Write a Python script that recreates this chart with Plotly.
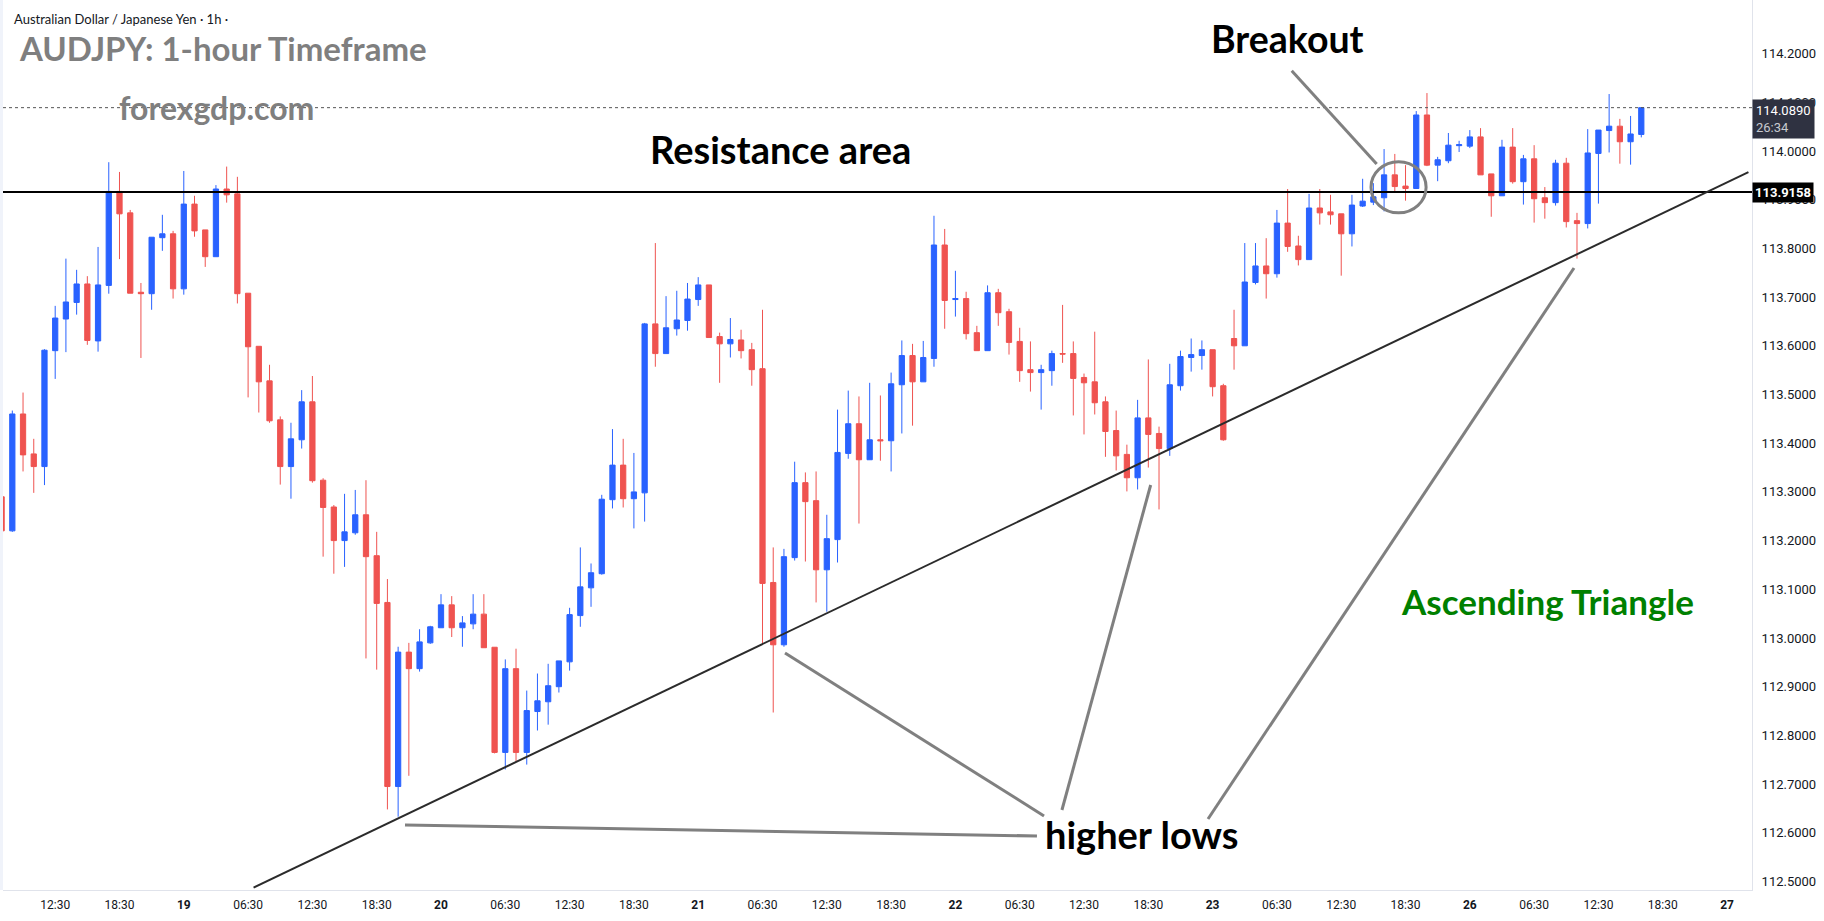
import plotly.graph_objects as go

# ---------------- data (hourly bars, index 0 = 19th 00:30) ----------------
bar_index = list(range(-17, 137))

opens = [113.29, 113.22, 113.460, 113.378, 113.352, 113.590, 113.655, 113.689, 113.727, 113.610,
         113.724, 113.917, 113.873, 113.710, 113.707, 113.822, 113.830, 113.717, 113.891, 113.838,
         113.783, 113.922, 113.912, 113.708, 113.599, 113.528, 113.448, 113.352, 113.407, 113.485,
         113.324, 113.269, 113.200, 113.216, 113.253, 113.169, 113.073, 112.695, 112.971, 112.937,
         112.990, 113.021, 113.068, 113.021, 113.029, 113.049, 112.981, 112.765, 112.937, 112.765,
         112.849, 112.869, 112.900, 112.951, 113.046, 113.103, 113.132, 113.284, 113.355, 113.286,
         113.298, 113.645, 113.584, 113.635, 113.652, 113.695, 113.725, 113.619, 113.604, 113.612,
         113.592, 113.553, 113.114, 112.986, 113.165, 113.319, 113.282, 113.140, 113.202, 113.379,
         113.440, 113.366, 113.407, 113.405, 113.520, 113.580, 113.526, 113.574, 113.807, 113.695,
         113.697, 113.627, 113.590, 113.709, 113.670, 113.609, 113.551, 113.545, 113.549, 113.584,
         113.584, 113.535, 113.526, 113.485, 113.426, 113.377, 113.329, 113.452, 113.420, 113.389,
         113.518, 113.576, 113.580, 113.592, 113.518, 113.615, 113.600, 113.730, 113.764, 113.748,
         113.852, 113.805, 113.777, 113.883, 113.875, 113.871, 113.830, 113.887, 113.895, 113.904,
         113.951, 113.928, 113.923, 114.074, 113.971, 113.980, 114.011, 114.010, 114.029, 113.953,
         113.908, 114.008, 113.937, 113.984, 113.904, 113.894, 113.975, 113.857, 113.851, 113.995,
         114.042, 114.051, 114.019, 114.034]
highs = [113.30, 113.467, 113.504, 113.409, 113.593, 113.682, 113.779, 113.756, 113.743, 113.803,
         113.977, 113.957, 113.879, 113.729, 113.823, 113.869, 113.836, 113.959, 113.908, 113.838,
         113.930, 113.968, 113.947, 113.708, 113.599, 113.561, 113.455, 113.442, 113.509, 113.538,
         113.328, 113.273, 113.296, 113.304, 113.324, 113.218, 113.121, 112.982, 112.990, 113.018,
         113.025, 113.090, 113.086, 113.045, 113.090, 113.090, 112.981, 112.956, 112.978, 112.892,
         112.927, 112.947, 112.953, 113.062, 113.186, 113.153, 113.294, 113.429, 113.409, 113.380,
         113.647, 113.811, 113.702, 113.713, 113.729, 113.741, 113.725, 113.627, 113.657, 113.633,
         113.606, 113.674, 113.186, 113.183, 113.362, 113.340, 113.342, 113.253, 113.469, 113.508,
         113.496, 113.524, 113.498, 113.545, 113.611, 113.604, 113.610, 113.867, 113.840, 113.754,
         113.711, 113.641, 113.724, 113.717, 113.676, 113.637, 113.609, 113.561, 113.590, 113.684,
         113.609, 113.543, 113.629, 113.496, 113.467, 113.397, 113.489, 113.572, 113.434, 113.563,
         113.590, 113.615, 113.611, 113.592, 113.522, 113.674, 113.811, 113.811, 113.821, 113.879,
         113.922, 113.826, 113.912, 113.922, 113.910, 113.871, 113.910, 113.943, 113.934, 114.004,
         113.994, 113.971, 114.082, 114.119, 113.988, 114.037, 114.021, 114.043, 114.047, 113.953,
         114.023, 114.047, 113.992, 114.012, 113.926, 113.982, 113.986, 113.873, 114.045, 114.043,
         114.117, 114.066, 114.072, 114.090]
lows = [113.20, 113.218, 113.342, 113.298, 113.314, 113.532, 113.587, 113.664, 113.602, 113.588,
        113.707, 113.778, 113.708, 113.575, 113.674, 113.795, 113.697, 113.705, 113.824, 113.762,
        113.783, 113.894, 113.687, 113.494, 113.463, 113.442, 113.315, 113.286, 113.389, 113.319,
        113.167, 113.132, 113.146, 113.212, 112.958, 112.935, 112.648, 112.633, 112.717, 112.931,
        112.988, 113.021, 113.002, 112.982, 113.018, 112.980, 112.763, 112.730, 112.746, 112.740,
        112.810, 112.822, 112.888, 112.933, 113.023, 113.064, 113.130, 113.266, 113.268, 113.225,
        113.239, 113.557, 113.584, 113.621, 113.631, 113.682, 113.617, 113.524, 113.576, 113.574,
        113.518, 112.988, 112.847, 112.982, 113.159, 113.157, 113.073, 113.054, 113.155, 113.368,
        113.235, 113.366, 113.364, 113.342, 113.420, 113.436, 113.526, 113.557, 113.635, 113.660,
        113.613, 113.590, 113.590, 113.641, 113.582, 113.526, 113.506, 113.469, 113.518, 113.565,
        113.457, 113.418, 113.459, 113.372, 113.344, 113.301, 113.305, 113.350, 113.264, 113.374,
        113.508, 113.547, 113.551, 113.496, 113.405, 113.551, 113.600, 113.726, 113.697, 113.740,
        113.793, 113.765, 113.777, 113.849, 113.849, 113.744, 113.804, 113.885, 113.889, 113.876,
        113.917, 113.898, 113.923, 113.969, 113.938, 113.975, 113.998, 114.006, 113.951, 113.865,
        113.908, 113.933, 113.890, 113.853, 113.861, 113.888, 113.843, 113.779, 113.841, 113.892,
        113.997, 113.974, 113.972, 114.028]
closes = [113.22, 113.460, 113.376, 113.352, 113.591, 113.657, 113.690, 113.727, 113.611, 113.725,
          113.917, 113.871, 113.708, 113.707, 113.823, 113.830, 113.717, 113.891, 113.836, 113.783,
          113.922, 113.910, 113.707, 113.598, 113.526, 113.446, 113.352, 113.409, 113.485, 113.323,
          113.268, 113.200, 113.218, 113.253, 113.167, 113.071, 112.695, 112.971, 112.937, 112.992,
          113.023, 113.068, 113.021, 113.031, 113.049, 112.980, 112.765, 112.937, 112.765, 112.851,
          112.871, 112.902, 112.953, 113.048, 113.105, 113.134, 113.285, 113.355, 113.286, 113.300,
          113.645, 113.584, 113.637, 113.653, 113.696, 113.725, 113.617, 113.604, 113.613, 113.590,
          113.551, 113.112, 112.986, 113.167, 113.319, 113.280, 113.140, 113.204, 113.381, 113.440,
          113.366, 113.407, 113.405, 113.522, 113.580, 113.526, 113.576, 113.807, 113.693, 113.697,
          113.625, 113.590, 113.709, 113.668, 113.607, 113.549, 113.545, 113.551, 113.584, 113.583,
          113.533, 113.524, 113.483, 113.424, 113.374, 113.329, 113.452, 113.418, 113.389, 113.520,
          113.578, 113.582, 113.592, 113.516, 113.407, 113.600, 113.731, 113.764, 113.748, 113.852,
          113.804, 113.777, 113.883, 113.873, 113.869, 113.830, 113.889, 113.897, 113.906, 113.951,
          113.927, 113.923, 114.074, 113.971, 113.982, 114.012, 114.013, 114.029, 113.951, 113.908,
          114.008, 113.937, 113.984, 113.902, 113.894, 113.975, 113.855, 113.851, 113.996, 114.043,
          114.051, 114.019, 114.035, 114.089]

# time axis labels (bar index -> label)
time_tick_idx = [-12, -6, 0, 6, 12, 18, 24, 30, 36, 42, 48, 54, 60, 66, 72, 78, 84, 90, 96,
                 102, 108, 114, 120, 126, 132, 138, 144]
time_tick_txt = ["12:30", "18:30", "<b>19</b>", "06:30", "12:30", "18:30", "<b>20</b>", "06:30",
                 "12:30", "18:30", "<b>21</b>", "06:30", "12:30", "18:30", "<b>22</b>", "06:30",
                 "12:30", "18:30", "<b>23</b>", "06:30", "12:30", "18:30", "<b>26</b>", "06:30",
                 "12:30", "18:30", "<b>27</b>"]
price_ticks = [round(112.5 + 0.1 * k, 1) for k in range(19)]

resistance_level = 113.9158
last_price = 114.0890
countdown = "26:34"

# drawn objects (bar index, price)
trend_x = [6.51, 146.0]
trend_y = [112.4875, 113.9565]
breakout_ptr_x = [103.38, 111.31]
breakout_ptr_y = [114.1649, 113.9733]
circle_x = [110.78, 115.92]
circle_y = [113.873, 113.978]
hl_ptr1_x = [56.10, 80.27]
hl_ptr1_y = [112.9692, 112.6345]
hl_ptr2_x = [81.94, 90.22]
hl_ptr2_y = [112.6468, 113.3142]
hl_ptr3_x = [95.57, 129.72]
hl_ptr3_y = [112.6283, 113.7598]
base_line_x = [20.64, 79.61]
base_line_y = [112.616, 112.5934]

x_range = [-16.87, 146.33]
y_range = [112.4825, 114.3101]

BLUE = "#2962FF"
RED = "#EF5350"
GREY = "#808080"

fig = go.Figure()
fig.add_trace(go.Candlestick(
    x=bar_index, open=opens, high=highs, low=lows, close=closes,
    increasing=dict(line=dict(color=BLUE, width=1), fillcolor=BLUE),
    decreasing=dict(line=dict(color=RED, width=1), fillcolor=RED),
    whiskerwidth=0, hoverinfo="skip", showlegend=False,
))

shapes = []
shapes.append(dict(type="line", xref="x domain", x0=0, x1=1, yref="y",
                   y0=resistance_level, y1=resistance_level, line=dict(color="#000000", width=2)))
shapes.append(dict(type="line", xref="x domain", x0=0, x1=1, yref="y",
                   y0=last_price, y1=last_price, line=dict(color="#555555", width=1, dash="dot")))
shapes.append(dict(type="line", xref="x", yref="y", x0=trend_x[0], x1=trend_x[1],
                   y0=trend_y[0], y1=trend_y[1], line=dict(color="#2B2B2B", width=2)))
for xs, ys in [(breakout_ptr_x, breakout_ptr_y), (hl_ptr1_x, hl_ptr1_y), (hl_ptr2_x, hl_ptr2_y),
               (hl_ptr3_x, hl_ptr3_y), (base_line_x, base_line_y)]:
    shapes.append(dict(type="line", xref="x", yref="y", x0=xs[0], x1=xs[1], y0=ys[0], y1=ys[1],
                       line=dict(color=GREY, width=3)))
shapes.append(dict(type="circle", xref="x", yref="y", x0=circle_x[0], x1=circle_x[1],
                   y0=circle_y[0], y1=circle_y[1], line=dict(color=GREY, width=3)))
# thin light frame at the window's top/left edges
shapes.append(dict(type="rect", xref="paper", yref="paper", x0=-0.01, x1=0.0, y0=0, y1=1.05,
                   line=dict(width=0), fillcolor="#F0F3FA", layer="below"))

BIG = "Lato"
annotations = [
    dict(text="Australian Dollar / Japanese Yen · 1h ·", xref="paper", yref="paper", x=0.005, y=1 - 19 / 890,
         xanchor="left", yanchor="middle", showarrow=False,
         font=dict(family="Lato", size=13, color="#131722")),
    dict(text="<b>AUDJPY: 1-hour Timeframe</b>", xref="paper", yref="paper", x=(17 - 3) / 1749, y=1 - 48 / 890,
         xanchor="left", yanchor="middle", showarrow=False,
         font=dict(family=BIG, size=33, color="#7F7F7F")),
    dict(text="<b>forexgdp.com</b>", xref="paper", yref="paper", x=(216 - 3) / 1749, y=1 - 108 / 890,
         xanchor="center", yanchor="middle", showarrow=False,
         font=dict(family=BIG, size=32, color="#7F7F7F")),
    dict(text="<b>Breakout</b>", x=103.03, y=114.232, xref="x", yref="y", showarrow=False,
         font=dict(family=BIG, size=37.5, color="#000000")),
    dict(text="<b>Resistance area</b>", x=55.72, y=114.004, xref="x", yref="y", showarrow=False,
         font=dict(family=BIG, size=38, color="#000000")),
    dict(text="<b>higher lows</b>", x=89.41, y=112.597, xref="x", yref="y", showarrow=False,
         font=dict(family=BIG, size=38, color="#000000")),
    dict(text="<b>Ascending Triangle</b>", x=127.25, y=113.075, xref="x", yref="y", showarrow=False,
         font=dict(family=BIG, size=35, color="#008000")),
    dict(text=f"<b>{resistance_level:.4f}</b>", xref="paper", x=1.0, xanchor="left", yref="y",
         y=resistance_level, yanchor="middle", showarrow=False, bgcolor="#000000", borderpad=2,
         font=dict(family="Roboto", size=13, color="#FFFFFF")),
    dict(text=f"{last_price:.4f}<br><span style='color:#C8CAD0'>{countdown}</span>", xref="paper", x=1.0,
         xanchor="left", yref="y", y=last_price, yanchor="top", yshift=9, align="left", showarrow=False,
         bgcolor="#2F3241", borderpad=3, font=dict(family="Roboto", size=13, color="#FFFFFF")),
]

fig.update_layout(
    width=1824, height=921,
    margin=dict(l=3, r=72, t=0, b=31),
    paper_bgcolor="#FFFFFF", plot_bgcolor="#FFFFFF",
    shapes=shapes, annotations=annotations,
    showlegend=False,
    xaxis=dict(range=x_range, rangeslider=dict(visible=False), showgrid=False, zeroline=False,
               tickmode="array", tickvals=time_tick_idx, ticktext=time_tick_txt,
               tickfont=dict(family="Roboto", size=12, color="#131722"),
               showline=True, linecolor="#E0E3EB", linewidth=1, ticks="", ticklabelstandoff=4),
    yaxis=dict(range=y_range, side="right", showgrid=False, zeroline=False,
               tickmode="array", tickvals=price_ticks, tickformat=".4f",
               tickfont=dict(family="Roboto", size=13, color="#131722"),
               showline=True, linecolor="#E0E3EB", linewidth=1, ticks="", ticklabelstandoff=6),
)

fig.write_html("out.html")
